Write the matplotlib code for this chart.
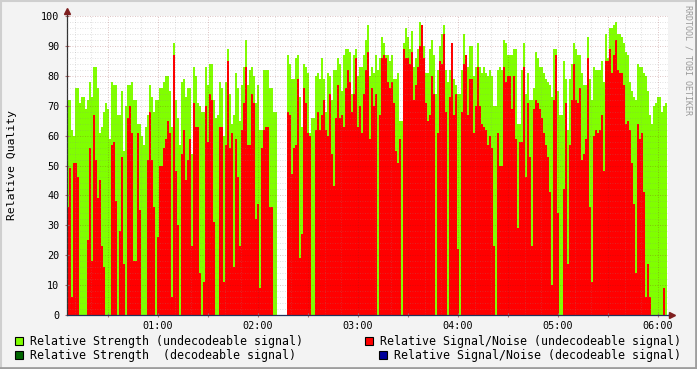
import numpy as np
import matplotlib.pyplot as plt
from matplotlib.patches import Rectangle
from matplotlib.lines import Line2D

nan = float('nan')

# time axis: hours after midnight, one sample every 72 s
start_hour = 0.09
step_hour = 0.02

# relative strength (undecodeable signal), green area
strength = [
    72, 72, 62, 60, 76, 76, 71, 73, 73, 69, 72, 78, 73, 83, 83, 76, 61, 63, 68, 71,
    69, 59, 78, 77, 77, 67, 67, 75, 55, 70, 77, 77, 78, 72, 72, 64, 64, 60, 57, 63,
    67, 77, 73, 68, 72, 72, 76, 76, 78, 80, 80,
    75, 63, 91, 72, 66, 57, 78, 79, 73, 76, 76, 54, 83, 80, 71, 70, 68, 68, 83, 77,
    84, 84, 72, 66, 67, 78, 76, 60, 78, 89, 74, 64, 67, 81, 76, 65, 77, 83, 92, 77,
    82, 83, 80, 71, 77, 62, 62, 82, 82, 82,
    76, 76, 68, 68, nan, nan, nan, nan, nan, 87, 84, 79, 79, 86, 87, 73, 63, 84, 83, 81,
    61, 66, 66, 80, 81, 79, 86, 79, 68, 81, 80, 72, 82, 82, 86, 84, 75, 87, 89, 89,
    88, 74, 87, 89, 80, 83, 83, 87, 92, 97,
    80, 83, 81, 87, 82, 86, 93, 91, 87, 87, 85, 87, 79, 79, 81, 65, 65, 91, 96, 93,
    89, 95, 83, 86, 89, 98, 96, 90, 81, 81, 89, 92, 87, 74, 82, 90, 94, 97, 82, 78,
    82, 86, 79, 77, 74, 74, 82, 94, 87, 83,
    90, 90, 80, 83, 91, 83, 81, 83, 81, 80, 82, 80, 70, 70, 82, 83, 82, 92, 91, 87,
    87, 87, 89, 89, 64, 64, 82, 91, 74, 81, 72, 72, 76, 88, 86, 83, 83, 81, 79, 78,
    77, 73, 89, 89, 75, 67, 67, 85, 79, 62,
    79, 84, 91, 89, 87, 87, 81, 77, 77, 93, 79, 72, 83, 82, 82, 82, 85, 78, 94, 86,
    96, 96, 97, 98, 94, 94, 93, 91, 88, 87, 78, 75, 73, 72, 84, 83, 83, 81, 80, 75,
    67, 64, 70, 71, 73, 73, 68, 70, 71,
]

# relative signal/noise (undecodeable signal), red area
snr = [
    36, 49, 6, 51, 51, 46, 0, 0, 0, 0, 25, 56, 18, 67, 52, 39, 45, 23, 16, 0,
    0, 0, 57, 58, 38, 0, 28, 53, 17, 0, 66, 70, 61, 18, 18, 61, 35, 0, 0, 0,
    52, 68, 52, 36, 0, 26, 50, 50, 56, 59, 65,
    61, 6, 87, 48, 30, 0, 54, 62, 45, 52, 59, 23, 71, 63, 63, 14, 0, 11, 70, 58,
    74, 72, 31, 0, 0, 63, 63, 11, 57, 85, 56, 61, 16, 59, 46, 23, 62, 71, 83, 57,
    57, 74, 71, 32, 37, 9, 56, 62, 63, 63,
    36, 36, 0, 0, nan, nan, nan, nan, nan, 68, 67, 47, 56, 57, 79, 19, 27, 76, 71, 61,
    60, 0, 0, 62, 68, 62, 67, 72, 62, 60, 74, 54, 43, 66, 77, 66, 67, 63, 76, 82,
    78, 68, 74, 86, 63, 70, 61, 74, 82, 88,
    59, 76, 70, 74, 0, 67, 86, 87, 86, 78, 76, 78, 71, 55, 51, 59, 0, 89, 86, 86,
    84, 88, 72, 77, 83, 90, 97, 86, 71, 65, 67, 80, 74, 0, 61, 85, 84, 94, 68, 0,
    73, 91, 67, 74, 22, 0, 68, 84, 87, 67,
    79, 79, 61, 70, 83, 70, 64, 63, 62, 57, 60, 56, 23, 0, 61, 50, 50, 83, 78, 80,
    80, 69, 80, 59, 29, 58, 58, 83, 46, 71, 53, 23, 69, 72, 71, 69, 66, 61, 57, 53,
    41, 10, 72, 87, 34, 0, 0, 42, 71, 17,
    57, 72, 84, 72, 71, 76, 52, 54, 59, 86, 36, 11, 60, 62, 61, 62, 67, 48, 85, 85,
    89, 81, 87, 92, 82, 81, 81, 77, 64, 65, 62, 51, 37, 14, 64, 59, 61, 41, 6, 17,
    6, 0, 0, 0, 0, 0, 0, 9, 0,
]

hour_labels = ['01:00', '02:00', '03:00', '04:00', '05:00', '06:00']
legend_items = [
    ('Relative Strength (undecodeable signal)', '#80FF00'),
    ('Relative Signal/Noise (undecodeable signal)', '#FF0000'),
    ('Relative Strength  (decodeable signal)', '#006600'),
    ('Relative Signal/Noise (decodeable signal)', '#000099'),
]

W, H = 697, 369
plt.rcParams['font.family'] = ['DejaVu Sans Mono']

fig = plt.figure(figsize=(W / 100, H / 100), dpi=100, facecolor='#F3F3F3')
ax = fig.add_axes([67 / W, 54 / H, 601 / W, 299 / H], facecolor='white')

x = start_hour + step_hour * np.arange(len(strength))
ax.bar(x, strength, width=step_hour, align='edge', color='#80FF00',
       linewidth=0, antialiased=False, zorder=1)
ax.bar(x, snr, width=step_hour, align='edge', color='#FF0000',
       linewidth=0, antialiased=False, zorder=1.1)

ax.set_xlim(0.09, 6.10)
ax.set_ylim(0, 100)

# grid drawn over the areas, like rrdtool
dots = (0, (1, 2))
for v in np.arange(2, 100, 2):
    if v % 10:
        ax.axhline(v, color='#8C8C8C', alpha=0.35, lw=0.6, ls=dots, zorder=3)
for v in range(10, 101, 10):
    ax.axhline(v, color='#821E1E', alpha=0.35, lw=0.6, ls=dots, zorder=3)
for m in range(10, 370, 10):
    h = m / 60
    if m % 30:
        ax.axvline(h, color='#8C8C8C', alpha=0.35, lw=0.6, ls=dots, zorder=3)
    else:
        ax.axvline(h, color='#821E1E', alpha=0.35, lw=0.6, ls=dots, zorder=3)

ax.set_xticks(np.arange(0.5, 6.01, 0.5))
lab = []
for i in range(12):
    lab.append(hour_labels[i // 2] if i % 2 else '')
ax.set_xticklabels(lab)
ax.set_yticks(range(0, 101, 10))
ax.tick_params(axis='x', length=3, direction='inout', color='#B07070', pad=3, labelsize=7.3)
ax.tick_params(axis='y', length=3, direction='inout', color='#B07070', pad=4, labelsize=7.3)

for s in ['top', 'right']:
    ax.spines[s].set_visible(False)
ax.spines['left'].set_color('#333333')
ax.spines['bottom'].set_color('#22305A')
ax.spines['left'].set_linewidth(0.9)
ax.spines['bottom'].set_linewidth(0.9)

# axis extensions and arrows
ax.plot([0, 0], [1, 1.01], color='#333333', lw=0.9, transform=ax.transAxes, clip_on=False)
ax.plot([1, 1.005], [0, 0], color='#22305A', lw=0.9, transform=ax.transAxes, clip_on=False)
ax.plot([0], [1.018], marker='^', ms=4, color='#7F1F1F', transform=ax.transAxes, clip_on=False)
ax.plot([1.006], [0], marker='>', ms=4, color='#7F1F1F', transform=ax.transAxes, clip_on=False)

fig.text(12 / W, 1 - 165 / H, 'Relative Quality', rotation=90, ha='center', va='center', fontsize=8.2)
fig.text(688 / W, 1 - 5 / H, 'RRDTOOL / TOBI OETIKER', rotation=270, ha='center', va='top',
         fontsize=6, color='#999999')

# legend
pos = [(15, 341), (365, 341), (15, 355), (379, 355)]
for (label, col), (px, py) in zip(legend_items, pos):
    fig.add_artist(Rectangle((px / W, 1 - (py + 4) / H), 8 / W, 8 / H, transform=fig.transFigure,
                             facecolor=col, edgecolor='black', lw=0.8))
    fig.text((px + 15) / W, 1 - py / H, label, ha='left', va='center', fontsize=8.35)

# 3d frame
fig.add_artist(Line2D([0, 1], [1 - 1 / H, 1 - 1 / H], color='#CFCFCF', lw=1.5, transform=fig.transFigure))
fig.add_artist(Line2D([1 / W, 1 / W], [0, 1], color='#CFCFCF', lw=1.5, transform=fig.transFigure))
fig.add_artist(Line2D([0, 1], [1.5 / H, 1.5 / H], color='#9E9E9E', lw=2, transform=fig.transFigure))
fig.add_artist(Line2D([1 - 1.5 / W, 1 - 1.5 / W], [0, 1], color='#9E9E9E', lw=2, transform=fig.transFigure))

fig.savefig('out.png', dpi=100, facecolor=fig.get_facecolor())
